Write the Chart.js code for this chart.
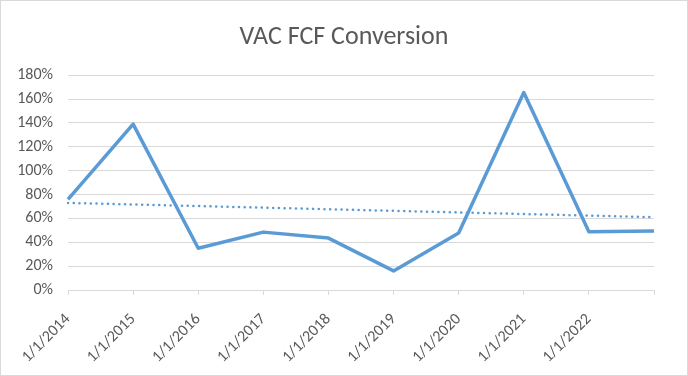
<!DOCTYPE html>
<html>
<head>
<meta charset="utf-8">
<script src="https://cdn.jsdelivr.net/npm/chart.js@4/dist/chart.umd.min.js"></script>
<style>
  body { margin: 0; background: #fff; }
  #wrap { width: 686px; height: 374px; border: 1px solid #d9d9d9; }
</style>
</head>
<body>
<div id="wrap"><canvas id="myChart" width="686" height="374"></canvas></div>
<script>
// values
const labels = ['1/1/2014', '1/1/2015', '1/1/2016', '1/1/2017', '1/1/2018',
                '1/1/2019', '1/1/2020', '1/1/2021', '1/1/2022', ''];
const conversion = [76, 139, 35, 48.5, 43.5, 16, 47.7, 165.5, 48.8, 49.4];
// linear trendline, only the two ends drawn, gaps spanned
const trend = [73, null, null, null, null, null, null, null, null, 61];
const yTicks = [0, 20, 40, 60, 80, 100, 120, 140, 160, 180];

const font = "Calibri, Carlito, 'Open Sans', 'Liberation Sans', sans-serif";
const grey = '#595959';

document.addEventListener("DOMContentLoaded", () => {
    const ctx = document.getElementById('myChart').getContext('2d');

    new Chart(ctx, {
        type: 'line',
        data: {
            labels: labels,
            datasets: [
                {
                    label: 'FCF Conversion',
                    data: conversion,
                    borderColor: '#5b9bd5',
                    borderWidth: 3.5,
                    pointRadius: 0,
                    tension: 0,
                    borderJoinStyle: 'round'
                },
                {
                    label: 'Linear trend',
                    data: trend,
                    spanGaps: true,
                    borderColor: '#5b9bd5',
                    borderWidth: 2.5,
                    borderDash: [0.1, 5.6],
                    borderCapStyle: 'round',
                    pointRadius: 0
                }
            ]
        },
        options: {
            responsive: false,
            animation: false,
            layout: { padding: 0 },
            plugins: {
                legend: { display: false },
                tooltip: { enabled: false },
                title: {
                    display: true,
                    text: 'VAC FCF Conversion',
                    color: grey,
                    font: { family: font, size: 26, weight: 'normal' },
                    padding: { top: 21, bottom: 22 }
                }
            },
            scales: {
                x: {
                    offset: false,
                    grid: {
                        display: true,
                        drawOnChartArea: false,
                        drawTicks: true,
                        tickLength: 5,
                        color: '#d9d9d9'
                    },
                    border: { display: true, color: '#d9d9d9' },
                    ticks: {
                        color: grey,
                        font: { family: font, size: 16 },
                        minRotation: 45,
                        maxRotation: 45,
                        autoSkip: false,
                        padding: 15
                    },
                    afterFit: s => { s.height = 85; }
                },
                y: {
                    min: 0,
                    max: 180,
                    afterBuildTicks: s => { s.ticks = yTicks.map(v => ({ value: v })); },
                    grid: { color: '#d9d9d9', drawTicks: false },
                    border: { display: false },
                    ticks: {
                        color: grey,
                        font: { family: font, size: 16 },
                        padding: 15,
                        callback: v => v + '%'
                    },
                    afterFit: s => { s.width = 67; }
                },
                // empty right-hand axis: only reserves the right margin
                yRight: {
                    position: 'right',
                    min: 0,
                    max: 180,
                    grid: { display: false },
                    border: { display: false },
                    ticks: { display: false },
                    afterFit: s => { s.width = 33; }
                }
            }
        }
    });
});
</script>
</body>
</html>
